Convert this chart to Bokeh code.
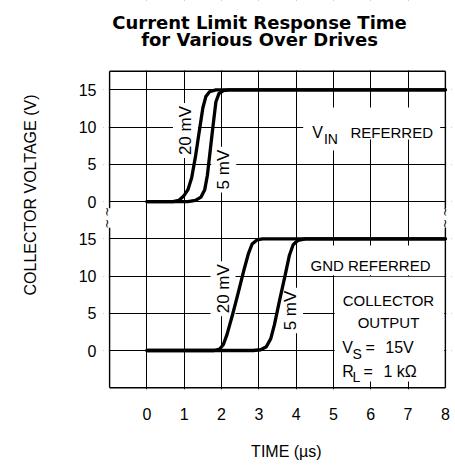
import math
from bokeh.plotting import figure
from bokeh.models import Range1d, FixedTicker
from bokeh.core.properties import value
from bokeh.embed import file_html
from bokeh.resources import INLINE

# ---------------- data (volts vs microseconds) ----------------
vin_20mv_t = [0, 0.7, 0.85, 0.98, 1.1, 1.2, 1.3, 1.4, 1.5, 1.58, 1.68, 1.85, 8]
vin_20mv_v = [0, 0, 0.15, 0.7, 1.6, 3.2, 6.0, 9.3, 12.6, 14.1, 14.75, 15, 15]
vin_5mv_t = [0, 1.1, 1.3, 1.45, 1.55, 1.62, 1.7, 1.78, 1.85, 1.93, 2.05, 2.2, 8]
vin_5mv_v = [0, 0, 0.15, 0.6, 1.6, 3.5, 7.0, 10.5, 13.4, 14.5, 14.9, 15, 15]
gnd_20mv_t = [0, 1.8, 1.95, 2.05, 2.15, 2.3, 2.45, 2.6, 2.72, 2.82, 2.95, 3.1, 8]
gnd_20mv_v = [0, 0, 0.2, 0.8, 2.2, 4.9, 7.8, 10.8, 13.0, 14.3, 14.85, 15, 15]
gnd_5mv_t = [0, 2.85, 3.05, 3.2, 3.32, 3.42, 3.55, 3.7, 3.82, 3.92, 4.05, 4.25, 8]
gnd_5mv_v = [0, 0, 0.1, 0.5, 1.6, 3.5, 6.6, 10.0, 12.8, 14.2, 14.8, 15, 15]

x_ticks = [0, 1, 2, 3, 4, 5, 6, 7, 8]
y_tick_labels = ["0", "5", "10", "15"]

title_lines = ["Current Limit Response Time", "for Various Over Drives"]

UPPER = 20  # vertical offset of the V_IN referred panel (broken axis)

SANS = "Liberation Sans"

p = figure(width=455, height=467, output_backend="svg", toolbar_location=None,
           x_range=Range1d(-1.1635, 8.164), y_range=Range1d(-5.236, 47.0),
           min_border_left=103, min_border_right=4, min_border_top=0,
           min_border_bottom=78)
p.outline_line_color = None
p.background_fill_color = "white"
p.border_fill_color = "white"

# axes
p.xaxis.ticker = FixedTicker(ticks=x_ticks)
yt = [float(v) for v in (0, 5, 10, 15)] + [float(v) + UPPER for v in (0, 5, 10, 15)]
p.yaxis.ticker = FixedTicker(ticks=yt)
p.yaxis.major_label_overrides = {t: y_tick_labels[i % 4] for i, t in enumerate(yt)}
for ax in (p.xaxis[0], p.yaxis[0]):
    ax.axis_line_color = None
    ax.major_tick_line_color = None
    ax.minor_tick_line_color = None
    ax.major_label_text_font = SANS
    ax.major_label_text_font_size = "16px"
    ax.major_label_text_color = "black"
    ax.axis_label_text_font = SANS
    ax.axis_label_text_font_style = "normal"
    ax.axis_label_text_font_size = "16px"
    ax.axis_label_text_color = "black"
p.xaxis.major_label_standoff = 12
p.yaxis.major_label_standoff = 1
p.xaxis.axis_label = "\u00a0\u00a0\u00a0\u00a0TIME (\u00b5s)"
p.xaxis.axis_label_standoff = 20
p.yaxis.axis_label = "COLLECTOR VOLTAGE (V)"
p.yaxis.axis_label_standoff = 37

# grid
p.xgrid.ticker = FixedTicker(ticks=x_ticks[:-1])
for g in (p.xgrid[0], p.ygrid[0]):
    g.grid_line_color = "black"
    g.grid_line_width = 1
    g.grid_line_alpha = 1

# white masks: outside the frame border, above it, and behind annotation texts
p.quad(left=[-1.1635, 8.02, -1.1635, 4.19, 4.6, 4.2, 5.03],
       right=[-1.02, 8.164, 8.164, 7.86, 5.2, 7.97, 7.97],
       bottom=[-5.236, -5.236, 37.6, 28.33, 26.86, 10.12, -4.16],
       top=[47.0, 47.0, 47.0, 32.63, 29.0, 14.1, 9.9],
       fill_color="white", line_color=None)

# title (two centred lines)
p.text(x=[3.018, 3.018], y=[44.05, 41.8], text=title_lines, text_align="center",
       text_baseline="alphabetic", text_font=value("DejaVu Sans"),
       text_font_style="bold", text_font_size=value("18px"), text_color="black")

# rotated over-drive labels with white background
mv_kw = dict(angle=math.pi / 2, text_align="center", text_baseline="middle",
             text_font=value(SANS), text_font_size=value("17px"), text_color="black",
             background_fill_color="white", padding=3)
p.text(x=[1.034, 2.06, 2.04, 3.85], y=[29.54, 24.3, 8.3, 5.37],
       text=["20 mV", "5 mV", "20 mV", "5 mV"], **mv_kw)

# curves
for t, v, off in ((vin_20mv_t, vin_20mv_v, UPPER), (vin_5mv_t, vin_5mv_v, UPPER),
                  (gnd_20mv_t, gnd_20mv_v, 0), (gnd_5mv_t, gnd_5mv_v, 0)):
    p.line(t, [vv + off for vv in v], line_color="black", line_width=3.3,
           line_join="round", line_cap="round")

# annotation texts
def txt(x, y, s, size="15px", align="left"):
    p.text(x=[x], y=[y], text=[s], text_font=value(SANS), text_font_size=value(size),
           text_align=align, text_baseline="alphabetic", text_color="black")

txt(4.43, 29.27, "V", "16px")
txt(4.746, 28.43, "IN", "14px")
txt(5.457, 29.27, "REFERRED")
txt(4.385, 11.41, "GND REFERRED")
txt(6.475, 6.71, "COLLECTOR", align="center")
txt(6.475, 3.80, "OUTPUT", align="center")
txt(5.234, 0.44, "V", "16px")
txt(5.51, -0.44, "S", "14px")
txt(5.859, 0.44, "=", "16px")
txt(6.39, 0.44, "15V", "16px")
txt(5.234, -2.82, "R", "16px")
txt(5.51, -3.58, "L", "14px")
txt(5.805, -2.82, "=", "16px")
txt(6.34, -2.82, "1 k\u03a9", "16px")

# frame border with breaks
p.segment(x0=[-1, -1, -1, -1, 8, 8], y0=[37.5, -5, -5, 19.1, -5, 19.1],
          x1=[8, 8, -1, -1, 8, 8], y1=[37.5, -5, 16.5, 37.5, 16.5, 37.5],
          line_color="black", line_width=1.4)

# break marks
p.text(x=[-1.07, -1.07, 8.003, 8.003], y=[18.64, 17.03, 18.64, 17.03],
       text=["~"] * 4, angle=math.pi / 2, text_align="center", text_baseline="middle",
       text_font=value("DejaVu Sans"), text_font_size=value("12px"), text_color="black")

open("out.html", "w").write(file_html(p, INLINE))
